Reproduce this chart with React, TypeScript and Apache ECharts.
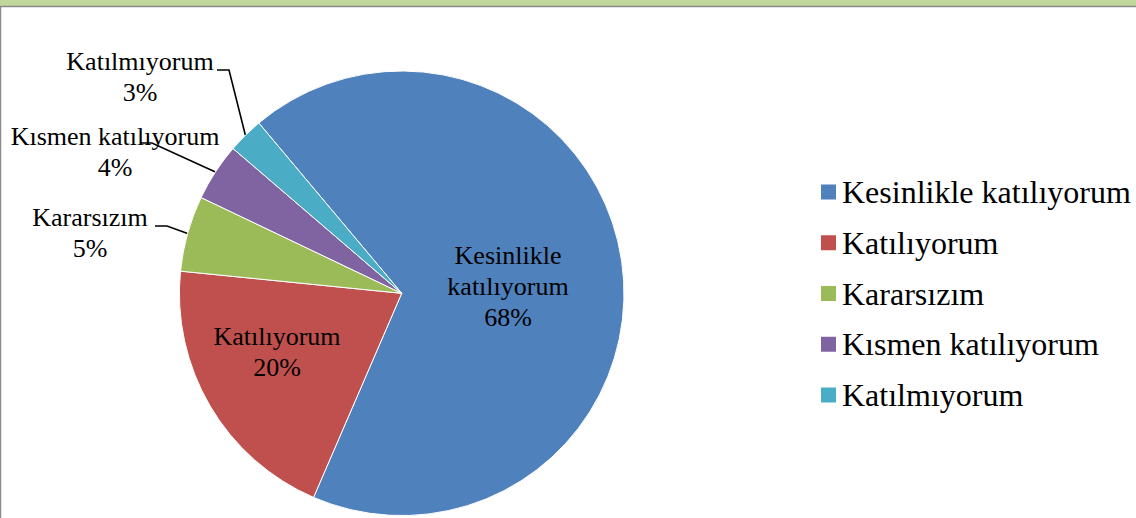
import React, { useEffect, useRef } from "react";
import * as echarts from "echarts";

const categories = [
  "Kesinlikle katılıyorum",
  "Katılıyorum",
  "Kararsızım",
  "Kısmen katılıyorum",
  "Katılmıyorum",
];
const values = [67.6, 20.1, 5.5, 4.2, 2.6];
const colors = ["#4f81bd", "#c0504d", "#9bbb59", "#8064a2", "#4bacc6"];
const insideFlags = [true, true, false, false, false];

// layout / style constants
const CENTER: [number, number] = [401.7, 293.3];
const RADIUS = 222.3;
const START_ANGLE = 130;
const labelPositions: [number, number][] = [
  [508, 286],
  [277, 352],
  [90, 233],
  [115, 152],
  [140, 77],
];
// leader line start (offset from label centre) and elbow length
const lineStarts: ([number, number] | null)[] = [null, null, [65, -7], [25, -9], [77, -7]];
const ELBOW = 12;

function midPointOnArc(index: number): [number, number] {
  const total = values.reduce((a, b) => a + b, 0);
  let before = 0;
  for (let i = 0; i < index; i++) before += values[i];
  const midFrac = (before + values[index] / 2) / total;
  const angleDeg = START_ANGLE - midFrac * 360; // clockwise
  const a = (angleDeg * Math.PI) / 180;
  return [CENTER[0] + RADIUS * Math.cos(a), CENTER[1] - RADIUS * Math.sin(a)];
}

export default function App() {
  const ref = useRef<HTMLDivElement>(null);
  useEffect(() => {
    if (!ref.current) return;
    const chart = echarts.init(ref.current, undefined, { renderer: "svg" });
    const font = "Liberation Serif";
    chart.setOption({
      animation: false,
      textStyle: { fontFamily: font },
      graphic: [
        { type: "rect", shape: { x: 0, y: 0, width: 1136, height: 6 }, style: { fill: "#c3d69b" }, silent: true },
        { type: "line", shape: { x1: 0, y1: 6.5, x2: 1136, y2: 6.5 }, style: { stroke: "#8a8a8a", lineWidth: 1.5 }, silent: true },
        { type: "line", shape: { x1: 0.5, y1: 6, x2: 0.5, y2: 518 }, style: { stroke: "#8a8a8a", lineWidth: 1.5 }, silent: true },
      ],
      legend: {
        orient: "vertical",
        left: 819,
        top: 175,
        padding: 0,
        icon: "rect",
        itemWidth: 17,
        itemHeight: 17,
        itemGap: 16.75,
        textStyle: { fontFamily: font, fontSize: 32, color: "#000", lineHeight: 34 },
        data: categories,
      },
      series: [
        {
          type: "pie",
          center: CENTER,
          radius: RADIUS,
          startAngle: START_ANGLE,
          clockwise: true,
          percentPrecision: 0,
          avoidLabelOverlap: false,
          itemStyle: { borderColor: "#ffffff", borderWidth: 1 },
          emphasis: { disabled: true },
          label: {
            fontFamily: font,
            fontSize: 26,
            lineHeight: 31,
            color: "#000",
            align: "center",
            formatter: (p: any) =>
              (p.dataIndex === 0 ? p.name.replace(" ", "\n") : p.name) + "\n" + p.percent + "%",
          },
          labelLine: { show: true, length: 10, length2: 10, lineStyle: { color: "#000", width: 1.6 } },
          labelLayout: (params: any) => {
            const i = params.dataIndex;
            const pos = labelPositions[i];
            const res: any = { x: pos[0], y: pos[1], align: "center", verticalAlign: "middle" };
            const st = lineStarts[i];
            if (st) {
              const p0: [number, number] = [pos[0] + st[0], pos[1] + st[1]];
              const p1: [number, number] = [p0[0] + ELBOW, p0[1]];
              res.labelLinePoints = [midPointOnArc(i), p1, p0];
            }
            return res;
          },
          data: categories.map((name, i) => ({
            name,
            value: values[i],
            itemStyle: { color: colors[i] },
            label: { position: insideFlags[i] ? "inside" : "outside" },
            labelLine: { show: !insideFlags[i] },
          })),
        },
      ],
    });
    return () => chart.dispose();
  }, []);
  return (
    <div
      ref={ref}
      style={{ position: "absolute", left: 0, top: 0, width: 1136, height: 518, background: "#fff" }}
    />
  );
}
